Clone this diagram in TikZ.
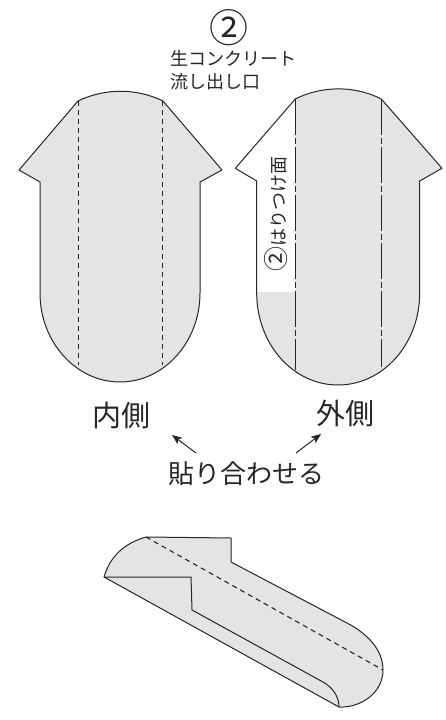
\documentclass[tikz,border=0pt]{standalone}
\usepackage{fontspec}
\setmainfont{Noto Sans CJK JP}
\usepackage{tikz}
\usetikzlibrary{arrows.meta}
\definecolor{sheetgray}{HTML}{E4E4E4}
\tikzstyle{Sheet}=[fill=sheetgray, draw=black!85, line width = 1pt, line join=round]
\tikzstyle{Fold}=[draw=black!85, line width = 1.1pt, dash pattern=on 5pt off 4pt]
\tikzstyle{FoldCut}=[draw=black!85, line width = 1.1pt, dash pattern=on 36pt off 3pt on 6pt off 3pt]
\tikzstyle{arrow}=[line width = 1pt, draw=black!85, -{Stealth[length=10pt, width=8pt, inset=2.5pt]}]
\tikzstyle{Small}=[inner sep=0pt, text=black!85, font=\fontsize{18}{23}\selectfont]
\tikzstyle{Big}=[inner sep=0pt, text=black!85, font=\fontsize{29}{32}\selectfont]
\pgfdeclarelayer{shapelayer}
\pgfdeclarelayer{edgelayer}
\pgfdeclarelayer{nodelayer}
\pgfsetlayers{shapelayer, edgelayer, nodelayer, main}

\begin{document}
\begin{tikzpicture}[x=1pt, y=-1pt]
	\useasboundingbox (0, 0) rectangle (446, 720);
	\begin{pgfonlayer}{shapelayer}
		% inner sheet
		\path [style=Sheet] (78, 101) .. controls (105, 88) and (136, 88) .. (163, 101) -- (222, 170) -- (200, 182) -- (200, 293)
			.. controls (200, 342) and (164, 382) .. (120, 382) .. controls (76, 382) and (40, 342) .. (40, 293)
			-- (40, 182) -- (19, 170) -- cycle;
		% outer sheet
		\path [fill=sheetgray] (295.3, 99) .. controls (322, 85.5) and (355, 85.5) .. (381.3, 99) -- (442, 168.3) -- (419.7, 181) -- (419.7, 293)
			.. controls (419.7, 344) and (383, 385) .. (338, 385) .. controls (293, 385) and (256.7, 344) .. (256.7, 293)
			-- (256.7, 181) -- (235.3, 168.3) -- cycle;
		\path [fill=white] (295.3, 99) -- (235.3, 168.3) -- (256.7, 181) -- (256.7, 292) -- (295.3, 292) -- cycle;
		\path [style=Sheet, fill=none] (295.3, 99) .. controls (322, 85.5) and (355, 85.5) .. (381.3, 99) -- (442, 168.3) -- (419.7, 181) -- (419.7, 293)
			.. controls (419.7, 344) and (383, 385) .. (338, 385) .. controls (293, 385) and (256.7, 344) .. (256.7, 293)
			-- (256.7, 181) -- (235.3, 168.3) -- cycle;
		% rolled sheet
		\path [style=Sheet] (146, 537) -- (231, 538) -- (231, 562) -- (347, 623)
			.. controls (368, 634) and (383, 650) .. (383, 670) .. controls (383, 692) and (362, 708) .. (339, 707)
			-- (104, 577) .. controls (110, 556) and (125, 543) .. (146, 537) -- cycle;
		\path [style=Sheet, fill=none] (104, 577) -- (191, 577) -- (192, 610) -- (323, 682) .. controls (332, 687) and (339, 696) .. (339, 707);
	\end{pgfonlayer}
	\begin{pgfonlayer}{edgelayer}
		\coordinate (foldA) at (78.5, 101);
		\coordinate (foldAend) at (78.5, 365);
		\coordinate (foldB) at (162.5, 101);
		\coordinate (foldBend) at (162.5, 365);
		\coordinate (cutA) at (295.5, 99);
		\coordinate (cutAend) at (295.5, 370);
		\coordinate (cutB) at (381.5, 99);
		\coordinate (cutBend) at (381.5, 367);
		\coordinate (rollA) at (146, 537);
		\coordinate (rollAend) at (383, 670);
		\draw [style=Fold] (foldA) -- (foldAend);
		\draw [style=Fold] (foldB) -- (foldBend);
		\draw [style=FoldCut] (cutA) -- (cutAend);
		\draw [style=FoldCut] (cutB) -- (cutBend);
		\draw [style=Fold] (rollA) -- (rollAend);
	\end{pgfonlayer}
	\begin{pgfonlayer}{nodelayer}
		\node [style=Small, font=\fontsize{39}{41}\selectfont] (number) at (229, 28) {②};
		\node [style=Small, align=left, anchor=north west] (outlet) at (170, 50) {生コンクリート\\流し出し口};
		\node [style=Small, rotate=90] (surface) at (276, 214) {{\fontsize{25}{25}\selectfont ②}{\fontsize{18}{20}\selectfont はりつけ面}};
		\node [style=Big] (inner) at (121, 416) {内側};
		\node [style=Big] (outer) at (345, 413) {外側};
		\node [style=Big, font=\fontsize{26}{28}\selectfont] (paste) at (246, 474) {貼り合わせる};
		\coordinate (pasteL) at (196, 453);
		\coordinate (pasteR) at (296, 453);
		\coordinate (innerTip) at (172, 435);
		\coordinate (outerTip) at (321, 434);
		\draw [style=arrow] (pasteL) -- (innerTip);
		\draw [style=arrow] (pasteR) -- (outerTip);
	\end{pgfonlayer}
\end{tikzpicture}
\end{document}
